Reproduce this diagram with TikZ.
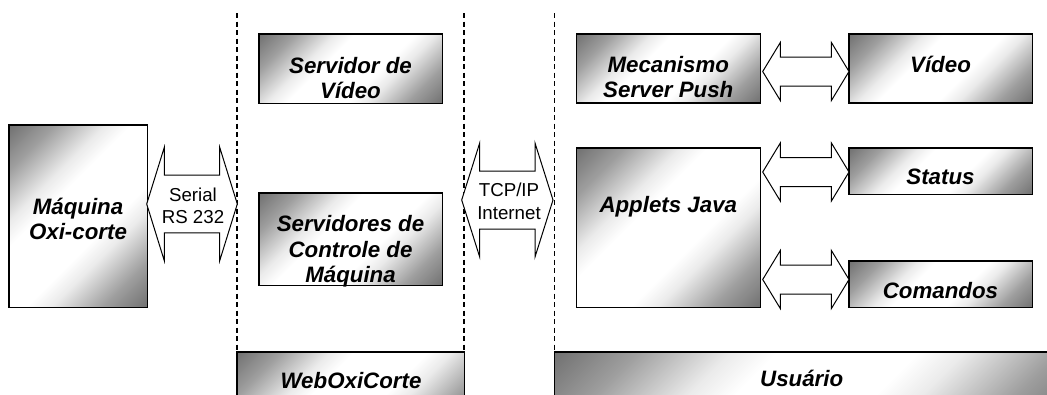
\documentclass[tikz,border=0pt]{standalone}
\usepackage{fontspec}
\setmainfont{Liberation Sans}
\pgfdeclareverticalshading{boxshade}{100bp}{color(0bp)=(black!56); color(25bp)=(black!56); color(32bp)=(black!38); color(40bp)=(black!8); color(44bp)=(white); color(56bp)=(white); color(60bp)=(black!8); color(68bp)=(black!38); color(75bp)=(black!56); color(100bp)=(black!56)}
\tikzset{
  blk/.style={inner sep=0pt, anchor=north west},
  boxborder/.style={draw=black, line width=1.4pt},
  lbl/.style={font=\fontsize{22.3}{25.5}\selectfont\bfseries\itshape, align=center, inner sep=0pt},
  lblsmall/.style={font=\fontsize{18.7}{22.5}\selectfont, align=center, inner sep=0pt},
  sepline/.style={line width=1.2pt, dash pattern=on 5pt off 3.5pt},
  barrow/.style={draw=black, line width=1pt, fill=white, line join=miter},
}
% shaded box: #1 node name, #2 scale of the diagonal gradient
\newcommand{\shadedbox}[2]{%
  \begin{scope}
    \clip (#1.north west) rectangle (#1.south east);
    \begin{scope}[shift={(#1.center)}, rotate=45, scale=#2]
      \pgflowlevelsynccm\pgfuseshading{boxshade}
    \end{scope}
  \end{scope}
  \draw[boxborder] (#1.north west) rectangle (#1.south east);}
% #1 left tip x, #2 right tip x, #3 centre y, #4 head half height, #5 shaft half height, #6 head length
\newcommand{\blockarrow}[6]{%
  \draw[barrow] (#1,#3) -- (#1+#6,#3-#4) -- (#1+#6,#3-#5) -- (#2-#6,#3-#5) -- (#2-#6,#3-#4)
    -- (#2,#3) -- (#2-#6,#3+#4) -- (#2-#6,#3+#5) -- (#1+#6,#3+#5) -- (#1+#6,#3+#4) -- cycle;}
\begin{document}
\begin{tikzpicture}[x=1pt,y=-1pt]
\clip (0,0) rectangle (1047,394);
\fill[white] (0,0) rectangle (1047,394);

% separators
\coordinate (d1a) at (237,13);   \coordinate (d1b) at (237,352);
\coordinate (d2a) at (464,13);   \coordinate (d2b) at (464,352);
\coordinate (d3a) at (554.5,13); \coordinate (d3b) at (554.5,352);
\draw[sepline] (d1a) -- (d1b);
\draw[sepline] (d2a) -- (d2b);
\draw[sepline] (d3a) -- (d3b);

% boxes
\node[blk, minimum width=138pt, minimum height=182pt] (maq) at (9,125) {};
\node[blk, minimum width=183pt, minimum height=69pt] (sv) at (259,34) {};
\node[blk, minimum width=183pt, minimum height=92pt] (sc) at (259,193) {};
\node[blk, minimum width=227pt, minimum height=80pt] (web) at (237,352) {};
\node[blk, minimum width=183.5pt, minimum height=68.5pt] (mec) at (576.5,34) {};
\node[blk, minimum width=183pt, minimum height=68.5pt] (vid) at (849,34) {};
\node[blk, minimum width=183.5pt, minimum height=159pt] (app) at (576.5,148) {};
\node[blk, minimum width=183pt, minimum height=46pt] (sta) at (849,148) {};
\node[blk, minimum width=183pt, minimum height=46pt] (com) at (849,261) {};
\node[blk, minimum width=506pt, minimum height=80pt] (usu) at (554.5,352) {};

\shadedbox{maq}{4.51}
\shadedbox{sv}{3.55}
\shadedbox{sc}{3.875}
\shadedbox{web}{4.33}
\shadedbox{mec}{3.55}
\shadedbox{vid}{3.55}
\shadedbox{app}{4.83}
\shadedbox{sta}{3.23}
\shadedbox{com}{3.23}
\shadedbox{usu}{8.26}

% texts
\node[lbl] (maqT) at (78,219) {Máquina\\Oxi-corte};
\node[lbl] (svT) at (350.5,78) {Servidor de\\Vídeo};
\node[lbl] (scT) at (350.5,251.7) {Servidores de\\Controle de\\Máquina};
\node[lbl] (webT) at (351,380.5) {WebOxiCorte};
\node[lbl] (mecT) at (668.3,77) {Mecanismo\\Server Push};
\node[lbl] (vidT) at (940.5,64.5) {Vídeo};
\node[lbl] (appT) at (668.3,206.7) {Applets Java};
\node[lbl] (staT) at (940.5,176.5) {Status};
\node[lbl] (comT) at (940.5,290.5) {Comandos};
\node[lbl] (usuT) at (801.7,378.5) {Usuário};

% block arrows
\blockarrow{146.7}{237.3}{204}{56.7}{28.8}{17.6}
\blockarrow{461.7}{553}{200}{57}{29}{18}
\blockarrow{762.7}{849}{71.5}{29}{14.5}{17.6}
\blockarrow{762.7}{849}{172}{29}{14.5}{17.6}
\blockarrow{762.7}{849}{279.5}{29}{14.5}{17.6}

\node[lblsmall] (serT) at (193,206) {Serial\\RS 232};
\node[lblsmall] (tcpT) at (509,201.5) {TCP/IP\\Internet};
\end{tikzpicture}
\end{document}
